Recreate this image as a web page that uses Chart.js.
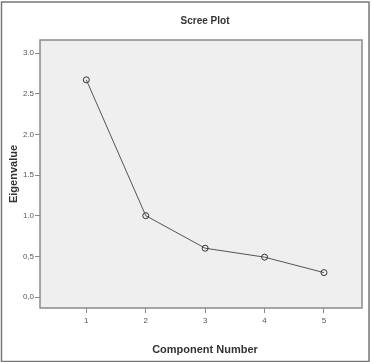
<!DOCTYPE html>
<html>
<head>
<meta charset="utf-8">
<script src="https://cdn.jsdelivr.net/npm/chart.js@4"></script>
<style>
  html, body { margin: 0; padding: 0; background: #fff; }
  #wrap { width: 371px; height: 362px; }
</style>
</head>
<body>
<div id="wrap"><canvas id="chart" width="371" height="362"></canvas></div>
<script>
// Data
const components = [1, 2, 3, 4, 5];
const eigenvalues = [2.67, 1.00, 0.60, 0.49, 0.30];
const yTickValues = [0, 0.5, 1, 1.5, 2, 2.5, 3];
const yTickLabels = ['0,0', '0,5', '1.0', '1.5', '2.0', '2.5', '3.0'];

const FONT = '"Liberation Sans", Arial, sans-serif';

// Grey plot panel, frame and the outer box
const framePlugin = {
  id: 'frame',
  beforeDraw(chart) {
    const { ctx, chartArea: a } = chart;
    ctx.save();
    ctx.fillStyle = '#fff';
    ctx.fillRect(0, 0, chart.width, chart.height);
    ctx.strokeStyle = '#777';
    ctx.lineWidth = 1.5;
    ctx.strokeRect(1.5, 2, chart.width - 3.5, chart.height - 2.5);
    ctx.fillStyle = '#efefef';
    ctx.fillRect(a.left, a.top, a.right - a.left, a.bottom - a.top);
    ctx.restore();
  },
  beforeDatasetsDraw(chart) {
    const { ctx, chartArea: a } = chart;
    ctx.save();
    ctx.strokeStyle = '#8a8a8a';
    ctx.lineWidth = 1.5;
    ctx.strokeRect(a.left, a.top, a.right - a.left, a.bottom - a.top);
    ctx.restore();
  },
  afterDraw(chart) {
    const ctx = chart.ctx;
    ctx.save();
    ctx.fillStyle = '#333';
    ctx.textAlign = 'center';
    ctx.textBaseline = 'middle';
    ctx.font = 'bold 10px ' + FONT;
    ctx.fillText('Scree Plot', 205, 21);
    ctx.font = 'bold 11px ' + FONT;
    ctx.fillText('Component Number', 205, 350);
    ctx.restore();
  }
};

const ctx = document.getElementById('chart').getContext('2d');
new Chart(ctx, {
  type: 'line',
  data: {
    datasets: [{
      data: components.map((c, i) => ({ x: c, y: eigenvalues[i] })),
      borderColor: '#555',
      borderWidth: 1,
      pointRadius: 3,
      pointBorderWidth: 1,
      pointBorderColor: '#333',
      pointBackgroundColor: 'rgba(0,0,0,0)',
      tension: 0
    }]
  },
  options: {
    responsive: false,
    animation: false,
    devicePixelRatio: 1,
    layout: { padding: { top: 40, right: 9, bottom: 0, left: 0 } },
    plugins: {
      legend: { display: false },
      tooltip: { enabled: false }
    },
    scales: {
      x: {
        type: 'linear',
        min: 0.22,
        max: 5.64,
        afterBuildTicks: scale => { scale.ticks = components.map(v => ({ value: v })); },
        afterFit: scale => { scale.height = 54; },
        border: { display: false },
        grid: { drawOnChartArea: false, drawTicks: true, tickLength: 5, color: '#888' },
        ticks: { font: { size: 8, family: FONT }, color: '#555', padding: 3, maxRotation: 0 }
      },
      y: {
        type: 'linear',
        min: -0.135,
        max: 3.16,
        afterBuildTicks: scale => { scale.ticks = yTickValues.map(v => ({ value: v })); },
        afterFit: scale => { scale.width = 40; },
        border: { display: false },
        grid: { drawOnChartArea: false, drawTicks: true, tickLength: 5, color: '#888' },
        ticks: {
          font: { size: 8, family: FONT },
          color: '#555',
          padding: 1,
          callback: v => yTickLabels[yTickValues.indexOf(v)]
        },
        title: {
          display: true,
          text: 'Eigenvalue',
          color: '#333',
          font: { size: 11, weight: 'bold', family: FONT },
          padding: { top: 7, bottom: 0 }
        }
      }
    }
  },
  plugins: [framePlugin]
});
</script>
</body>
</html>
